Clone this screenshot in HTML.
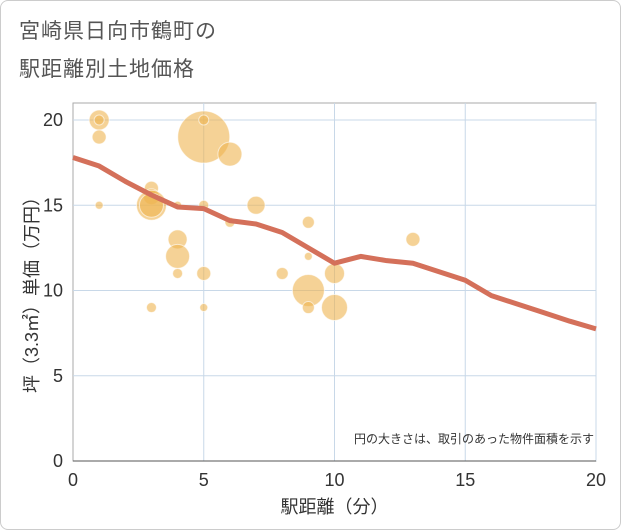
<!DOCTYPE html>
<html><head><meta charset="utf-8"><style>
body{margin:0;background:#fff;font-family:"Liberation Sans","Noto Sans CJK JP",sans-serif;}
#wrap{position:relative;width:619px;height:528px;border:1px solid #ccc;border-radius:8px;overflow:hidden;}
.title{position:absolute;left:18px;font-size:21px;color:#555;letter-spacing:1px;}
</style></head><body>
<div id="wrap">
<div class="title" style="top:14px">宮崎県日向市鶴町の</div>
<div class="title" style="top:52px">駅距離別土地価格</div>
<svg id="chart" width="621" height="530" style="position:absolute;left:-1px;top:-1px"></svg>
</div>
<script>
const xTicks=[0,5,10,15,20];
const yTicks=[0,5,10,15,20];
const bx=[1,1,1,1,3,3,3,3,4,4,4,4,3,5,5,5,5,5,6,6,7,8,9,9,9,9,10,10,13];
const by=[20,20,19,15,16,15.5,15,15,15,13,12,11,9,19,20,15,11,9,18,14,15,11,14,12,10,9,11,9,13];
const bsize=[10,5,7,4,7,8,15,12,4,9.5,12,5,5,26,5,5,7,4,12,5,9,6,6,4,16,6,10,13,7];
const lx=[0,1,2,3,4,5,6,7,8,9,10,11,12,13,14,15,16,17,18,19,20];
const ly=[17.8,17.3,16.4,15.6,14.9,14.8,14.1,13.9,13.4,12.5,11.6,12.0,11.75,11.6,11.1,10.6,9.7,9.2,8.7,8.2,7.75];
const svg=document.getElementById('chart');const NS='http://www.w3.org/2000/svg';
const X0=73,X1=596,Y0=461,Y1=120,TOP=103;
const sx=v=>X0+(X1-X0)*v/20, sy=v=>Y0-(Y0-Y1)*v/20;
function mk(t,a){const e=document.createElementNS(NS,t);for(const k in a)e.setAttribute(k,a[k]);svg.appendChild(e);return e;}
let bg=mk('rect',{x:X0,y:TOP,width:X1-X0,height:Y0-TOP,fill:'#fff',stroke:'#aaa'});


xTicks.forEach(t=>{if(t>0){let g=mk('line',{x1:sx(t),x2:sx(t),y1:TOP,y2:Y0,stroke:'#c8d8e8'});

}
let l=mk('text',{x:sx(t),y:Y0+25,'text-anchor':'middle','font-size':18,fill:'#333'});l.textContent=t;

});
yTicks.forEach(t=>{if(t>0){let g=mk('line',{x1:X0,x2:X1,y1:sy(t),y2:sy(t),stroke:'#c8d8e8'});

}
let l=mk('text',{x:X0-10,y:sy(t)+6,'text-anchor':'end','font-size':18,fill:'#333'});l.textContent=t;

});
let ax=mk('line',{x1:X0,x2:X1,y1:Y0,y2:Y0,stroke:'#555'});


bx.forEach((v,i)=>{let c=mk('circle',{cx:sx(v),cy:sy(by[i]),r:bsize[i],fill:'rgba(238,180,80,0.6)',stroke:'rgba(255,255,255,0.6)'});

});
let p=mk('polyline',{points:lx.map((v,i)=>sx(v)+','+sy(ly[i])).join(' '),fill:'none',stroke:'#d4705a','stroke-width':5,'stroke-linejoin':'round'});


let n=mk('text',{x:594,y:443,'text-anchor':'end','font-size':12,fill:'#333'});n.textContent='円の大きさは、取引のあった物件面積を示す';


let xt=mk('text',{x:sx(10),y:513,'text-anchor':'middle','font-size':18,fill:'#333'});xt.textContent='駅距離（分）';


let yt=mk('text',{x:0,y:0,'text-anchor':'middle','font-size':18,fill:'#333',transform:'translate(38,'+sy(10)+') rotate(-90)'});yt.textContent='坪（3.3㎡）単価（万円）';


</script>
</body></html>
